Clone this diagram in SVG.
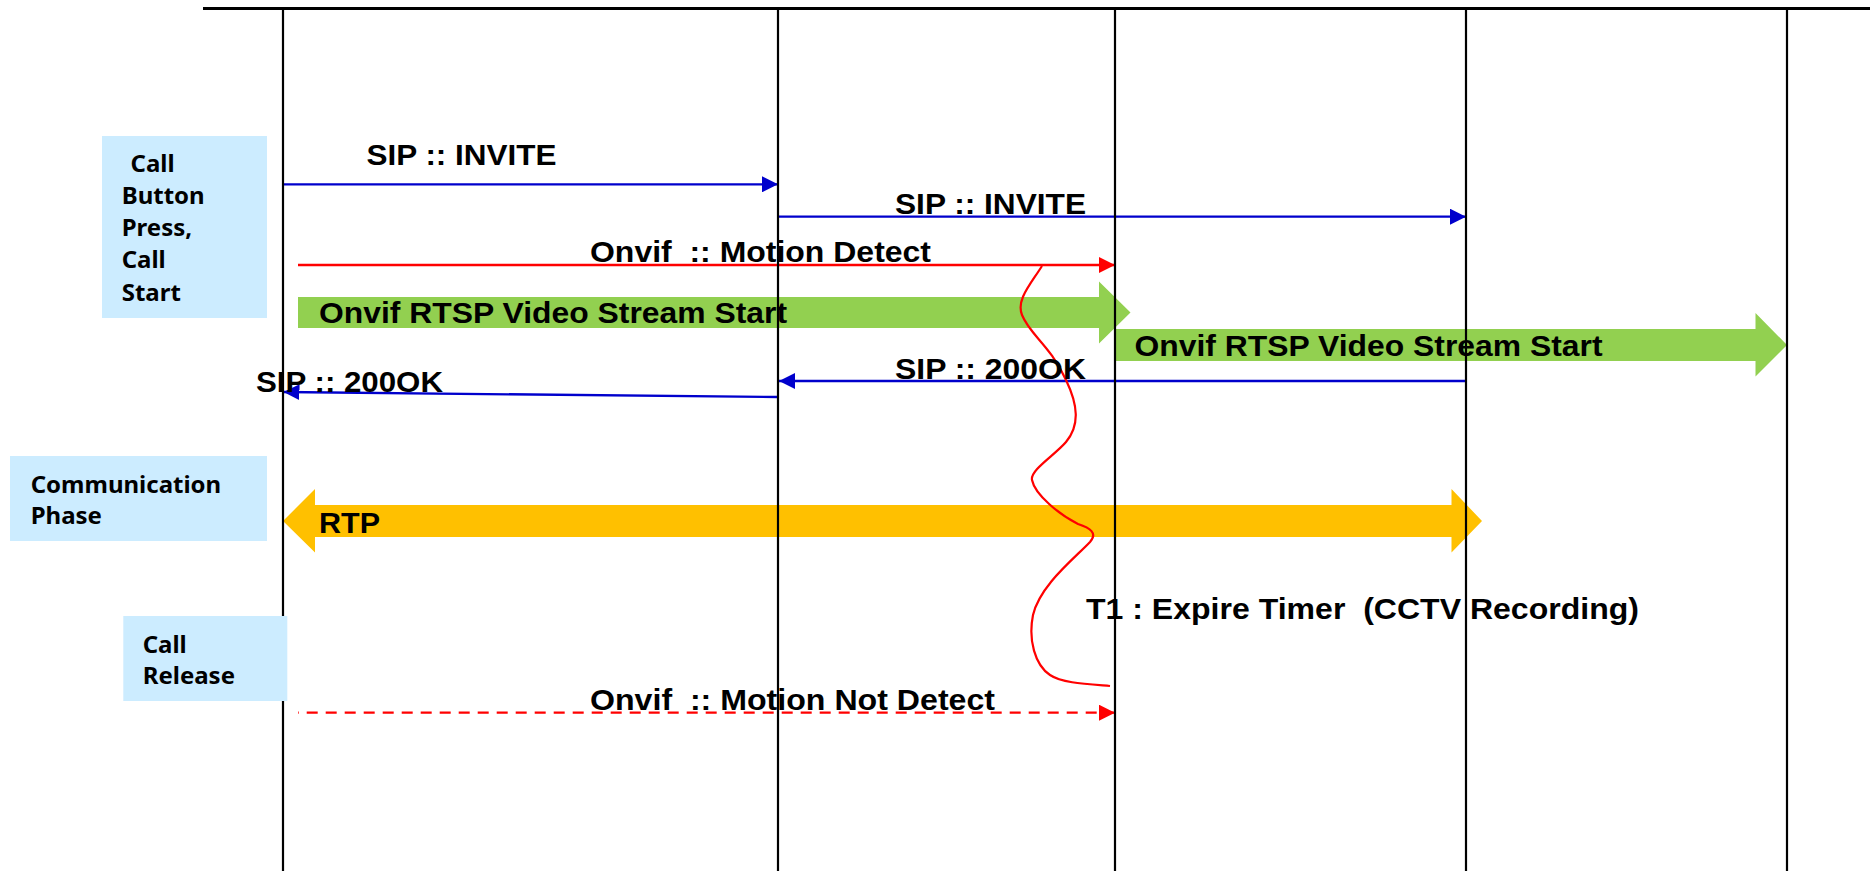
<svg xmlns="http://www.w3.org/2000/svg" width="1870" height="871" viewBox="0 0 1870 871">
  <style>
    .life { stroke: #000; stroke-width: 2.2; fill: none; }
    .note rect { fill: #CCECFF; }
    .note text { font-family: "Noto Sans", "Open Sans", sans-serif; font-weight: bold; font-size: 24px; fill: #000; }
    .lbl { font-family: "Liberation Sans", Arial, sans-serif; font-weight: bold; font-size: 30px; fill: #000; }
    .sip { stroke: #0000CC; stroke-width: 2.3; fill: none; marker-end: url(#headBlue); }
    .onvif { stroke: #FF0000; stroke-width: 2.3; fill: none; marker-end: url(#headRed); }
    .dash { stroke-dasharray: 11 8; stroke-dashoffset: 10.3; }
    .stream { fill: #92D050; }
    .rtp { fill: #FFC000; }
  </style>
  <defs>
    <marker id="headBlue" markerUnits="userSpaceOnUse" viewBox="0 0 16 16" refX="16" refY="8" markerWidth="16" markerHeight="16" orient="auto">
      <path d="M0,0 L16,8 L0,16 Z" fill="#0000CC"/>
    </marker>
    <marker id="headRed" markerUnits="userSpaceOnUse" viewBox="0 0 16 16" refX="16" refY="8" markerWidth="16" markerHeight="16" orient="auto">
      <path d="M0,0 L16,8 L0,16 Z" fill="#FF0000"/>
    </marker>
  </defs>

  <rect width="1870" height="871" fill="#fff"/>

  <!-- message flows between the lifelines -->
  <g id="connectors">
    <!-- video streams -->
    <path class="stream" d="M298,297 H1099 V281.5 L1130.5,312.5 L1099,343.5 V328 H298 Z"/>
    <path class="stream" d="M1115,329 H1755.5 V313 L1787,345 L1755.5,376.5 V361 H1115 Z"/>
    <!-- RTP media, both directions -->
    <path class="rtp" d="M283,521 L315,489 V505 H1451.5 V489 L1482,521 L1451.5,552.5 V537 H315 V552.5 Z"/>

    <line class="sip" x1="283" y1="184.3" x2="778" y2="184.3"/>
    <line class="sip" x1="778" y1="216.7" x2="1466" y2="216.7"/>
    <line class="onvif" x1="298" y1="265" x2="1115" y2="265"/>
    <line class="sip" x1="1466" y1="381" x2="779" y2="381"/>
    <line class="sip" x1="778" y1="397" x2="283.5" y2="392"/>
    <line class="onvif dash" x1="298" y1="712.7" x2="1115" y2="712.7"/>

    <!-- expire timer span -->
    <path d="M1042,266 C1030,285 1016,300 1022,315 C1030,335 1050,345 1066,380 C1078,405 1080,425 1066,442 C1055,455 1030,470 1032,480 C1035,495 1060,515 1078,524 C1090,528 1098,533 1090,542 C1075,558 1040,585 1033,615 C1028,640 1035,665 1050,675 C1062,683 1085,684 1110,686" fill="none" stroke="#FF0000" stroke-width="2.2"/>

    <text class="lbl" x="366.5" y="164.5" textLength="190" lengthAdjust="spacingAndGlyphs">SIP :: INVITE</text>
    <text class="lbl" x="895" y="214" textLength="191" lengthAdjust="spacingAndGlyphs">SIP :: INVITE</text>
    <text class="lbl" x="590" y="262" textLength="341" lengthAdjust="spacingAndGlyphs" xml:space="preserve">Onvif  :: Motion Detect</text>
    <text class="lbl" x="319" y="323" textLength="468" lengthAdjust="spacingAndGlyphs">Onvif RTSP Video Stream Start</text>
    <text class="lbl" x="1134.5" y="356" textLength="468" lengthAdjust="spacingAndGlyphs">Onvif RTSP Video Stream Start</text>
    <text class="lbl" x="895" y="379" textLength="191" lengthAdjust="spacingAndGlyphs">SIP :: 200OK</text>
    <text class="lbl" x="256" y="391.7" textLength="187" lengthAdjust="spacingAndGlyphs">SIP :: 200OK</text>
    <text class="lbl" x="319" y="533" textLength="61" lengthAdjust="spacingAndGlyphs">RTP</text>
    <text class="lbl" x="1086" y="619" textLength="553" lengthAdjust="spacingAndGlyphs" xml:space="preserve">T1 : Expire Timer  (CCTV Recording)</text>
    <text class="lbl" x="590" y="710" textLength="405" lengthAdjust="spacingAndGlyphs" xml:space="preserve">Onvif  :: Motion Not Detect</text>
  </g>

  <!-- frame and lifelines -->
  <g id="lifelines">
    <line x1="203" y1="8.5" x2="1870" y2="8.5" stroke="#000" stroke-width="3"/>
    <line class="life" x1="283" y1="8" x2="283" y2="871"/>
    <line class="life" x1="778" y1="8" x2="778" y2="871"/>
    <line class="life" x1="1115" y1="8" x2="1115" y2="871"/>
    <line class="life" x1="1466" y1="8" x2="1466" y2="871"/>
    <line class="life" x1="1787" y1="8" x2="1787" y2="871"/>
  </g>

  <!-- phase notes -->
  <g id="call-start" class="note">
    <rect x="102" y="136" width="165" height="182"/>
    <text x="130.5" y="172.3">Call</text>
    <text x="121.7" y="204.3">Button</text>
    <text x="121.7" y="236.3">Press,</text>
    <text x="121.7" y="268.3">Call</text>
    <text x="121.7" y="300.5">Start</text>
  </g>
  <g id="communication-phase" class="note">
    <rect x="10" y="456" width="257" height="85"/>
    <text x="30.7" y="493.3">Communication</text>
    <text x="30.7" y="524">Phase</text>
  </g>
  <g id="call-release" class="note">
    <rect x="123.3" y="616" width="164" height="85"/>
    <text x="142.7" y="653.3">Call</text>
    <text x="142.7" y="684.3">Release</text>
  </g>
</svg>
